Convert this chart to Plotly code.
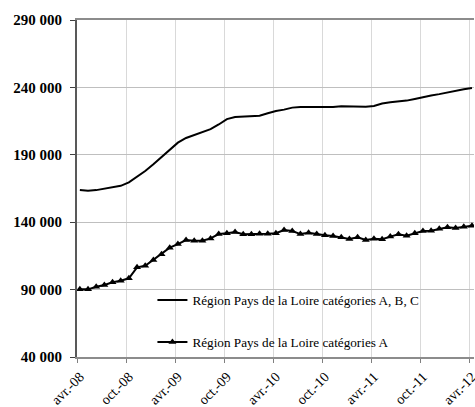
import plotly.graph_objects as go

# Monthly series, avr.-08 .. avr.-12 (49 months)
month_index = list(range(49))
cat_abc = [163900, 163300, 163800, 164800, 165800, 167000, 169500, 173500, 178000, 183000,
           188500, 194000, 199000, 202500, 204500, 207000, 209000, 212500, 216500, 218000,
           218500, 218600, 219000, 220800, 222500, 223500, 225000, 225500, 225500, 225300,
           225000, 225500, 226000, 225800, 225300, 225600, 226200, 228000, 229000, 229500,
           230200, 231400, 232800, 234000, 235000, 236300, 237500, 238600, 239500]
cat_a = [90200, 90200, 92100, 93400, 95400, 96600, 98400, 106500, 107700, 112000,
         116200, 121100, 123800, 126800, 126300, 126300, 128000, 131200, 131800, 132700,
         131000, 131000, 131500, 131500, 131800, 134200, 133500, 131200, 132200, 131200,
         130300, 129800, 128800, 127500, 128800, 126800, 127800, 127300, 129300, 131000,
         130000, 131800, 133500, 133700, 135200, 136200, 135700, 136700, 137400]
tick_pos = [0, 6, 12, 18, 24, 30, 36, 42, 48]
tick_labels = ["avr.-08", "oct.-08", "avr.-09", "oct.-09", "avr.-10", "oct.-10",
               "avr.-11", "oct.-11", "avr.-12"]
name_abc = "Région Pays de la Loire catégories A, B, C"
name_a = "Région Pays de la Loire catégories A"

x = [i + 0.35 for i in month_index]

fig = go.Figure()
fig.add_trace(go.Scatter(x=x, y=cat_abc, mode="lines", name=name_abc,
                         line=dict(color="black", width=2), legendgroup="g1"))
fig.add_trace(go.Scatter(x=x, y=cat_a, mode="lines+markers", name=name_a,
                         line=dict(color="black", width=2),
                         marker=dict(symbol="triangle-up", size=7, color="black"),
                         legendgroup="g2"))

font_family = "Liberation Serif"
fig.update_layout(
    width=475, height=407,
    margin=dict(l=77, r=1, t=20, b=50),
    paper_bgcolor="white", plot_bgcolor="white",
    separators=". ",
    font=dict(family=font_family, color="black", size=12),
    showlegend=True,
    legend=dict(x=0.19, y=0.214, xanchor="left", yanchor="top",
                bgcolor="rgba(0,0,0,0)", borderwidth=0,
                font=dict(family=font_family, size=13.2, color="black"),
                tracegroupgap=22, itemwidth=30),
    xaxis=dict(range=[0, 48.6], tickmode="array", tickvals=tick_pos, ticktext=tick_labels,
               tickangle=-45, ticks="outside", ticklen=4, tickcolor="#808080",
               showgrid=True, gridcolor="#D9D9D9", gridwidth=1,
               showline=True, linecolor="#8C8C8C", linewidth=2, mirror=True,
               tickfont=dict(family=font_family, size=14, color="black"),
               ticklabeloverflow="allow", ticklabelshift=3, ticklabelstandoff=0,
               zeroline=False, automargin=False),
    yaxis=dict(range=[40000, 290000], tickmode="linear", tick0=40000, dtick=50000,
               tickformat=",d", ticks="outside", ticklen=5, tickcolor="#404040",
               showgrid=True, gridcolor="#BFBFBF", gridwidth=1,
               showline=True, linecolor="#595959", linewidth=2,
               tickfont=dict(family=font_family, size=15, color="black", weight="bold"),
               ticklabelstandoff=5,
               zeroline=False, automargin=False),
)

fig.write_html("out.html", config={"displayModeBar": False},
               post_script="document.body.style.margin='0';document.body.style.overflow='hidden';")
